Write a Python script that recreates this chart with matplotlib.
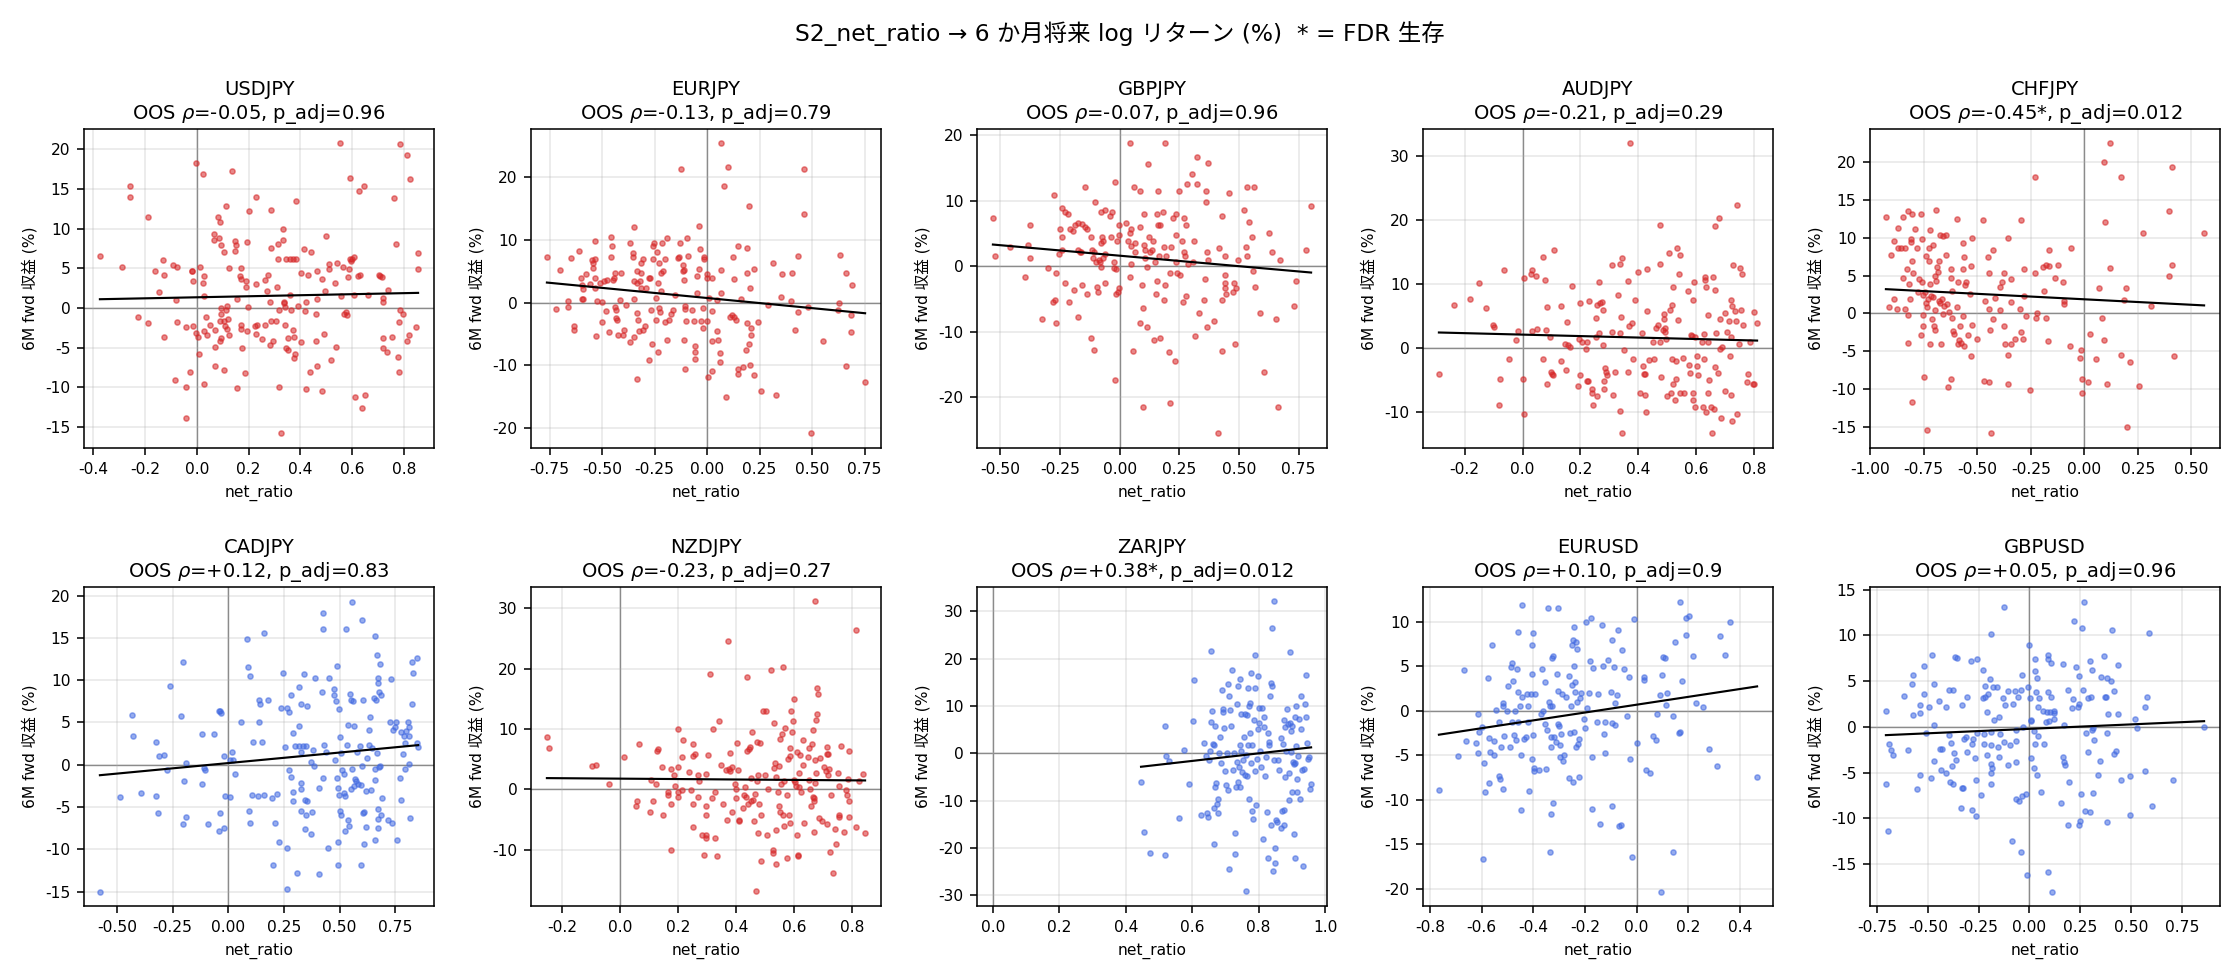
import numpy as np
import matplotlib
matplotlib.use("Agg")
import matplotlib.pyplot as plt

plt.rcParams['font.family'] = ['DejaVu Sans', 'Noto Sans CJK JP']
plt.rcParams['axes.unicode_minus'] = False

# ---------------- data ----------------
pair_names = ["USDJPY", "EURJPY", "GBPJPY", "AUDJPY", "CHFJPY",
              "CADJPY", "NZDJPY", "ZARJPY", "EURUSD", "GBPUSD"]
oos_rho = [-0.05, -0.13, -0.07, -0.21, -0.45, 0.12, -0.23, 0.38, 0.10, 0.05]
p_adj_text = ["0.96", "0.79", "0.96", "0.29", "0.012", "0.83", "0.27", "0.012", "0.9", "0.96"]
fdr_survive = [False, False, False, False, True, False, False, True, False, False]
# regression line (slope, intercept)
fit_slope = [0.651, -3.234, -3.2, -1.15, -1.448, 2.488, -0.352, 8.0, 4.41, 0.974]
fit_intercept = [1.344, 0.732, 1.6, 2.08, 1.87, 0.19, 1.78, -6.4, 0.70, -0.22]

usdjpy_pts = [(-0.374,6.5),(-0.29,5.2),(-0.257,15.3),(-0.257,14.0),(-0.226,-1.2),(-0.19,11.5),(-0.19,-1.9),(-0.16,4.7),(-0.145,2.0),(-0.13,6.0),(-0.125,4.2),(-0.125,-3.7),(-0.09,5.4),(-0.08,1.0),(-0.075,5.1),(-0.075,-1.8),(-0.083,-9.1),(-0.04,-2.4),(-0.04,-10.0),(-0.04,-13.9),(-0.028,-8.1),(-0.02,4.6),(-0.017,4.7),(-0.013,-2.3),(-0.013,3.4),(-0.005,18.2),(-0.005,-3.2),(0.003,-3.6),(0.01,-5.8),(0.014,5.1),(0.022,16.8),(0.022,3.1),(0.026,4.0),(0.026,1.5),(0.026,-9.6),(0.026,-2.9),(0.037,-1.2),(0.041,-3.4),(0.049,-2.2),(0.072,-4.9),(0.072,-2.8),(0.072,-7.3),(0.068,9.3),(0.065,8.5),(0.08,11.4),(0.084,8.8),(0.088,10.8),(0.095,7.9),(0.103,7.0),(0.088,-4.2),(0.092,-3.8),(0.088,-1.6),(0.092,-0.7),(0.095,-0.04),(0.103,-1.7),(0.103,-7.8),(0.107,-2.3),(0.111,12.8),(0.111,-0.3),(0.115,0.2),(0.115,-2.6),(0.119,-1.4),(0.123,5.0),(0.126,-3.4),(0.134,17.2),(0.146,8.4),(0.146,7.2),(0.15,7.9),(0.154,1.1),(0.154,-10.1),(0.165,4.0),(0.169,5.0),(0.169,3.6),(0.169,-2.1),(0.169,-2.7),(0.173,-5.0),(0.185,-8.2),(0.188,3.4),(0.188,2.6),(0.192,8.3),(0.192,-2.9),(0.196,0.1),(0.2,12.2),(0.223,-2.3),(0.227,14.0),(0.227,3.0),(0.231,-2.1),(0.227,-3.3),(0.25,-3.9),(0.262,3.5),(0.262,-2.1),(0.27,2.1),(0.274,4.2),(0.281,0.7),(0.281,-4.7),(0.285,12.3),(0.285,7.6),(0.285,-1.7),(0.293,-4.1),(0.305,-1.7),(0.308,2.7),(0.312,6.2),(0.312,8.1),(0.316,-0.2),(0.316,-10.0),(0.324,-15.8),(0.331,9.9),(0.331,8.5),(0.335,0.8),(0.335,0.6),(0.339,0.1),(0.339,-2.2),(0.343,6.2),(0.343,-5.1),(0.35,-3.8),(0.35,-5.3),(0.358,6.2),(0.358,1.6),(0.362,-0.2),(0.37,6.2),(0.37,-2.8),(0.374,-3.6),(0.374,-6.3),(0.378,-5.8),(0.382,13.5),(0.382,6.1),(0.39,0.3),(0.401,4.4),(0.401,-4.3),(0.413,7.4),(0.417,-0.4),(0.421,0.8),(0.421,-10.2),(0.428,4.1),(0.436,-8.1),(0.44,7.0),(0.459,-0.8),(0.459,-4.2),(0.463,4.7),(0.463,1.1),(0.463,-7.3),(0.483,3.6),(0.483,-10.5),(0.49,-3.3),(0.494,2.1),(0.498,9.1),(0.51,5.5),(0.51,4.9),(0.517,-6.5),(0.533,3.2),(0.537,-4.9),(0.541,5.6),(0.552,20.7),(0.556,1.5),(0.564,5.1),(0.568,-0.8),(0.575,-0.5),(0.579,-0.9),(0.583,3.9),(0.587,4.9),(0.59,16.3),(0.59,6.1),(0.595,5.9),(0.6,6.2),(0.606,6.4),(0.606,1.6),(0.61,-11.2),(0.622,4.0),(0.626,14.7),(0.63,4.1),(0.637,-12.6),(0.645,15.3),(0.649,-11.0),(0.66,1.6),(0.703,4.1),(0.707,4.0),(0.715,3.9),(0.719,1.2),(0.719,0.7),(0.719,-3.8),(0.719,-5.1),(0.734,-5.5),(0.738,2.2),(0.754,-3.7),(0.761,13.9),(0.769,8.0),(0.777,-6.2),(0.781,-1.8),(0.781,-8.0),(0.785,-0.2),(0.785,20.6),(0.796,-0.7),(0.812,19.3),(0.812,-4.1),(0.819,-3.4),(0.823,16.2),(0.846,-2.4),(0.854,6.9),(0.854,4.9)]

eurjpy_pts = [(-0.763,7.2),(-0.72,-1.0),(-0.70,5.2),(-0.662,0.2),(-0.662,-0.7),(-0.648,7.1),(-0.634,-3.8),(-0.634,-4.3),(-0.61,8.2),(-0.60,4.0),(-0.596,2.8),(-0.59,2.1),(-0.596,0.5),(-0.59,0.5),(-0.576,4.5),(-0.557,2.9),(-0.548,6.8),(-0.543,5.6),(-0.543,6.3),(-0.533,9.9),(-0.533,6.9),(-0.533,3.9),(-0.533,2.3),(-0.529,-5.4),(-0.524,0.2),(-0.51,3.1),(-0.50,0.05),(-0.50,-3.1),(-0.49,3.4),(-0.481,-1.4),(-0.476,3.6),(-0.466,-4.7),(-0.457,10.4),(-0.452,9.1),(-0.457,7.2),(-0.447,3.6),(-0.443,3.9),(-0.438,4.7),(-0.438,-0.7),(-0.433,-1.2),(-0.433,-2.5),(-0.428,-2.7),(-0.424,-5.2),(-0.414,0.4),(-0.41,4.7),(-0.40,-5.1),(-0.395,-4.4),(-0.385,-0.4),(-0.366,9.5),(-0.366,-6.3),(-0.352,7.9),(-0.352,7.2),(-0.347,12.0),(-0.347,3.4),(-0.347,0.5),(-0.347,-5.5),(-0.333,5.0),(-0.333,3.2),(-0.333,-1.7),(-0.333,-12.2),(-0.328,-2.7),(-0.323,-4.6),(-0.318,3.4),(-0.314,2.4),(-0.314,4.8),(-0.314,6.4),(-0.304,6.9),(-0.304,-4.4),(-0.295,-3.8),(-0.29,2.3),(-0.275,3.9),(-0.271,4.0),(-0.275,-9.2),(-0.266,-1.2),(-0.261,-6.6),(-0.256,9.1),(-0.256,6.9),(-0.252,9.5),(-0.242,0.7),(-0.242,-2.7),(-0.237,8.0),(-0.232,3.2),(-0.232,-7.9),(-0.228,6.3),(-0.228,-0.9),(-0.223,-1.5),(-0.218,1.8),(-0.218,4.7),(-0.213,9.5),(-0.208,5.0),(-0.199,-3.1),(-0.199,6.9),(-0.189,10.3),(-0.189,-6.0),(-0.18,-2.8),(-0.17,-1.9),(-0.161,-1.2),(-0.151,1.2),(-0.137,7.1),(-0.132,7.2),(-0.127,9.5),(-0.123,21.3),(-0.113,6.0),(-0.113,5.0),(-0.108,5.2),(-0.108,3.6),(-0.108,-5.9),(-0.104,-0.6),(-0.104,-1.1),(-0.104,-10.6),(-0.099,-3.0),(-0.094,10.3),(-0.089,7.4),(-0.07,-1.2),(-0.065,-3.0),(-0.06,-7.0),(-0.056,-7.9),(-0.06,-9.0),(-0.046,1.6),(-0.046,4.2),(-0.041,12.2),(-0.037,5.3),(-0.032,8.5),(-0.027,-3.0),(-0.022,-4.1),(-0.018,-0.9),(-0.013,7.2),(-0.013,6.9),(-0.003,-3.0),(-0.003,4.5),(-0.003,3.9),(0.002,-11.9),(0.011,0.7),(0.021,-1.4),(0.021,-6.2),(0.025,4.0),(0.025,-11.0),(0.045,0.4),(0.049,-4.6),(0.054,-6.0),(0.059,-8.1),(0.059,-9.5),(0.064,25.4),(0.064,5.2),(0.064,1.5),(0.078,18.6),(0.088,-15.1),(0.097,21.6),(0.111,-2.3),(0.116,-2.0),(0.121,7.2),(0.126,-2.3),(0.13,3.7),(0.135,-2.8),(0.145,9.0),(0.149,-10.6),(0.149,-11.4),(0.159,0.5),(0.173,-10.3),(0.183,-7.6),(0.188,4.8),(0.192,-3.3),(0.192,8.7),(0.197,15.5),(0.197,-6.6),(0.202,2.4),(0.202,-10.0),(0.207,-4.1),(0.207,-5.1),(0.221,5.3),(0.221,-11.6),(0.24,-3.1),(0.255,-14.1),(0.288,-0.4),(0.312,6.4),(0.326,-14.8),(0.35,0.9),(0.355,4.5),(0.398,0.2),(0.403,4.7),(0.417,-4.3),(0.432,7.4),(0.432,-1.5),(0.46,21.3),(0.46,14.1),(0.479,-0.7),(0.494,-20.9),(0.551,-6.2),(0.623,-1.2),(0.627,-0.1),(0.632,7.6),(0.661,4.8),(0.661,-10.2),(0.685,-2.0),(0.685,-4.7),(0.689,2.8),(0.752,-12.6)]

gbpjpy_pts = [(-0.531,7.3),(-0.522,1.5),(-0.46,3.0),(-0.397,-1.6),(-0.384,3.3),(-0.376,6.3),(-0.376,1.3),(-0.325,-8.0),(-0.30,-0.2),(-0.279,-5.5),(-0.275,10.8),(-0.27,-5.1),(-0.266,-1.0),(-0.266,-8.6),(-0.254,1.8),(-0.25,5.6),(-0.242,8.8),(-0.242,4.5),(-0.242,2.5),(-0.229,8.2),(-0.229,-2.5),(-0.216,7.9),(-0.212,-5.5),(-0.208,5.6),(-0.196,5.4),(-0.191,-3.6),(-0.187,6.3),(-0.175,6.6),(-0.175,2.4),(-0.175,-7.7),(-0.166,2.1),(-0.162,2.2),(-0.158,6.5),(-0.158,-2.9),(-0.145,12.0),(-0.145,5.9),(-0.137,5.7),(-0.137,-4.2),(-0.12,4.5),(-0.12,-11.0),(-0.116,2.4),(-0.112,1.2),(-0.108,2.2),(-0.108,-12.7),(-0.103,9.8),(-0.099,0.6),(-0.095,-3.2),(-0.091,-3.9),(-0.087,1.0),(-0.082,0.6),(-0.078,8.3),(-0.078,3.6),(-0.078,-0.05),(-0.074,4.4),(-0.07,3.9),(-0.07,1.2),(-0.061,8.5),(-0.061,1.9),(-0.061,-2.6),(-0.04,7.7),(-0.036,4.4),(-0.032,8.3),(-0.024,0.6),(-0.024,-0.2),(-0.02,12.9),(-0.02,-17.3),(-0.015,-0.4),(-0.015,-4.2),(-0.011,3.8),(-0.007,-4.0),(-0.003,4.8),(-0.003,6.3),(-0.003,-3.4),(0.027,6.6),(0.035,3.9),(0.043,18.7),(0.043,5.1),(0.043,-1.6),(0.047,5.7),(0.047,3.1),(0.047,0.4),(0.056,-13.0),(0.06,12.1),(0.064,3.5),(0.064,2.1),(0.085,11.5),(0.085,5.9),(0.085,-8.7),(0.094,-2.8),(0.098,-21.4),(0.098,-6.4),(0.102,7.9),(0.102,3.3),(0.106,2.5),(0.106,1.3),(0.115,-0.05),(0.115,-9.2),(0.119,15.5),(0.123,4.5),(0.127,2.2),(0.136,2.4),(0.14,3.8),(0.144,-11.2),(0.148,0.6),(0.152,-4.3),(0.156,7.9),(0.156,-2.2),(0.161,11.5),(0.161,6.3),(0.165,1.6),(0.169,6.3),(0.169,-10.9),(0.182,8.2),(0.186,3.0),(0.186,-5.1),(0.19,18.7),(0.19,-2.9),(0.194,1.6),(0.207,-13.1),(0.211,-1.0),(0.211,-20.9),(0.215,3.0),(0.223,7.4),(0.232,-14.5),(0.236,7.9),(0.236,4.7),(0.236,0.6),(0.24,-1.1),(0.249,11.5),(0.253,-1.3),(0.261,3.9),(0.265,-5.5),(0.27,7.3),(0.27,2.1),(0.274,1.6),(0.278,6.3),(0.278,-4.6),(0.282,12.6),(0.286,0.3),(0.303,14.0),(0.307,0.6),(0.311,3.9),(0.316,-10.7),(0.324,16.7),(0.324,12.6),(0.332,-7.1),(0.353,-5.1),(0.357,-2.0),(0.361,11.5),(0.361,9.8),(0.366,2.1),(0.366,-9.3),(0.37,15.8),(0.37,0.9),(0.395,-8.3),(0.416,2.7),(0.429,7.6),(0.429,-5.1),(0.429,-13.0),(0.441,-1.3),(0.441,1.6),(0.441,-2.6),(0.441,-3.4),(0.446,-4.2),(0.458,11.1),(0.475,-3.9),(0.479,-2.6),(0.483,-11.9),(0.487,-3.4),(0.496,0.9),(0.412,-25.5),(0.521,8.5),(0.529,3.0),(0.534,12.0),(0.534,1.5),(0.542,6.8),(0.554,4.4),(0.559,-0.8),(0.563,12.0),(0.567,-3.2),(0.588,-7.2),(0.605,-16.2),(0.626,5.1),(0.638,2.2),(0.655,-8.0),(0.663,-21.5),(0.672,0.9),(0.73,-6.0),(0.739,-2.2),(0.781,2.4),(0.802,9.1)]

audjpy_pts = [(-0.289,-4.1),(-0.237,6.7),(-0.182,7.7),(-0.151,10.2),(-0.127,6.2),(-0.103,3.6),(-0.099,3.3),(-0.078,-4.9),(-0.082,-9.0),(-0.065,12.2),(-0.047,-1.8),(-0.023,1.2),(-0.016,2.6),(0.001,-4.9),(0.005,-10.3),(0.005,11.0),(0.029,11.6),(0.032,12.2),(0.032,2.6),(0.046,11.3),(0.05,2.9),(0.07,14.3),(0.07,-1.8),(0.077,10.6),(0.081,2.8),(0.084,6.4),(0.084,-5.7),(0.095,1.7),(0.098,-3.7),(0.102,-4.1),(0.105,-4.3),(0.108,15.4),(0.133,6.6),(0.133,-2.1),(0.146,0.6),(0.15,-3.5),(0.153,4.0),(0.157,0.4),(0.164,0.1),(0.171,9.7),(0.191,-6.0),(0.195,1.4),(0.198,7.0),(0.198,-4.3),(0.205,1.0),(0.219,-0.2),(0.222,0.9),(0.222,-5.2),(0.226,-5.2),(0.229,7.3),(0.24,-6.5),(0.24,-7.0),(0.243,-8.9),(0.254,4.7),(0.254,1.7),(0.257,6.7),(0.257,-7.6),(0.264,10.3),(0.264,2.3),(0.267,7.0),(0.274,7.2),(0.278,5.9),(0.278,0.4),(0.281,-5.2),(0.281,-6.5),(0.285,-3.2),(0.288,-3.7),(0.291,-4.3),(0.309,2.5),(0.309,13.0),(0.312,-7.4),(0.319,-3.7),(0.33,8.3),(0.337,13.2),(0.337,2.3),(0.337,-9.8),(0.34,4.8),(0.344,14.1),(0.344,-13.4),(0.351,-0.4),(0.364,-3.8),(0.364,10.5),(0.368,3.4),(0.378,3.9),(0.382,-1.8),(0.389,7.5),(0.40,11.9),(0.406,-7.1),(0.413,2.3),(0.416,-2.9),(0.42,-4.1),(0.423,-4.1),(0.423,-7.4),(0.427,-10.1),(0.43,5.8),(0.43,12.4),(0.437,-1.9),(0.451,0.9),(0.455,-1.8),(0.461,3.1),(0.468,3.6),(0.475,19.3),(0.475,13.2),(0.475,1.0),(0.478,-4.6),(0.485,2.8),(0.489,4.5),(0.489,5.3),(0.492,3.1),(0.492,2.5),(0.496,1.4),(0.499,-7.6),(0.506,14.9),(0.51,5.9),(0.513,-7.1),(0.516,6.7),(0.516,-1.8),(0.52,9.5),(0.52,-5.7),(0.527,-8.1),(0.53,-2.1),(0.53,-4.9),(0.534,15.7),(0.537,4.4),(0.541,11.6),(0.544,14.6),(0.544,-7.1),(0.554,-1.6),(0.558,-7.1),(0.572,8.9),(0.575,-2.6),(0.579,-4.0),(0.582,2.0),(0.585,1.8),(0.589,7.5),(0.589,-7.0),(0.589,-8.2),(0.592,10.3),(0.596,1.7),(0.596,-9.2),(0.603,-1.3),(0.603,-2.9),(0.606,-4.3),(0.62,0.9),(0.624,-9.3),(0.627,2.2),(0.627,-1.8),(0.63,11.1),(0.63,10.6),(0.634,9.5),(0.634,-10.1),(0.641,0.9),(0.641,-7.1),(0.641,5.1),(0.644,-5.1),(0.651,-9.2),(0.655,-13.4),(0.658,11.1),(0.662,-9.5),(0.665,9.1),(0.665,19.1),(0.665,-3.0),(0.668,2.3),(0.675,-4.0),(0.679,20.4),(0.682,4.5),(0.682,-0.2),(0.685,-10.9),(0.689,0.1),(0.699,5.5),(0.699,-6.8),(0.706,2.5),(0.713,4.2),(0.716,-1.2),(0.72,7.5),(0.72,1.7),(0.72,-7.3),(0.723,6.6),(0.723,-11.5),(0.727,13.0),(0.734,5.8),(0.737,4.2),(0.741,22.3),(0.741,-10.4),(0.748,0.6),(0.751,12.5),(0.755,5.9),(0.758,11.6),(0.762,3.6),(0.776,-5.4),(0.779,-4.1),(0.786,1.0),(0.797,-5.6),(0.80,5.6),(0.80,-5.7),(0.81,3.9),(0.37,32.0)]

chfjpy_pts = [(-0.927,12.8),(-0.913,0.9),(-0.903,7.8),(-0.889,9.6),(-0.889,1.9),(-0.875,0.6),(-0.87,11.3),(-0.87,8.7),(-0.856,8.6),(-0.847,12.8),(-0.847,4.7),(-0.838,8.7),(-0.838,0.6),(-0.828,5.9),(-0.823,13.5),(-0.823,-0.2),(-0.823,-3.9),(-0.819,3.9),(-0.814,1.9),(-0.809,9.9),(-0.809,9.5),(-0.805,13.2),(-0.805,7.0),(-0.805,-11.7),(-0.8,5.4),(-0.791,11.2),(-0.781,8.7),(-0.777,2.9),(-0.772,4.5),(-0.763,13.2),(-0.763,-2.8),(-0.758,9.8),(-0.758,4.1),(-0.753,2.5),(-0.753,-0.2),(-0.753,-1.6),(-0.748,-8.4),(-0.744,2.9),(-0.739,7.6),(-0.739,1.4),(-0.734,0.8),(-0.734,-15.4),(-0.73,1.9),(-0.725,7.0),(-0.725,8.6),(-0.72,11.1),(-0.72,3.9),(-0.72,-4.0),(-0.716,2.3),(-0.711,-0.8),(-0.706,9.1),(-0.706,2.2),(-0.702,-1.6),(-0.697,-2.2),(-0.697,5.0),(-0.697,0.4),(-0.692,13.7),(-0.692,4.3),(-0.688,6.2),(-0.683,5.5),(-0.678,1.7),(-0.678,7.0),(-0.673,10.4),(-0.673,1.4),(-0.669,-4.0),(-0.664,1.9),(-0.659,10.2),(-0.659,-0.04),(-0.655,1.0),(-0.645,7.8),(-0.645,10.4),(-0.641,1.3),(-0.636,-9.7),(-0.631,0.2),(-0.622,5.9),(-0.622,4.7),(-0.622,-8.7),(-0.617,3.0),(-0.617,-0.6),(-0.613,-2.3),(-0.608,-2.7),(-0.594,12.5),(-0.594,0.8),(-0.589,4.1),(-0.589,-4.0),(-0.584,-3.5),(-0.58,-1.6),(-0.575,-3.9),(-0.566,9.3),(-0.566,5.9),(-0.566,-0.3),(-0.561,7.5),(-0.561,-4.3),(-0.556,3.7),(-0.552,4.2),(-0.542,-2.8),(-0.533,2.6),(-0.528,6.3),(-0.528,-5.7),(-0.523,10.0),(-0.523,-1.5),(-0.50,-3.4),(-0.472,12.4),(-0.463,1.7),(-0.45,7.5),(-0.445,5.4),(-0.445,0.6),(-0.44,-2.2),(-0.445,-9.1),(-0.467,-8.9),(-0.434,-15.9),(-0.425,8.4),(-0.425,-0.8),(-0.416,2.1),(-0.392,0.4),(-0.392,3.5),(-0.383,4.2),(-0.375,-1.6),(-0.375,5.4),(-0.369,-4.0),(-0.355,10.0),(-0.355,-5.5),(-0.355,-9.3),(-0.345,-4.0),(-0.345,1.5),(-0.341,4.6),(-0.322,-3.4),(-0.303,0.6),(-0.298,12.4),(-0.298,-2.4),(-0.289,-3.4),(-0.284,5.9),(-0.28,2.3),(-0.275,-0.3),(-0.252,-10.1),(-0.233,18.0),(-0.233,5.4),(-0.228,-0.6),(-0.223,0.1),(-0.195,6.2),(-0.19,3.0),(-0.181,-0.6),(-0.177,6.4),(-0.172,-3.6),(-0.167,6.3),(-0.163,8.4),(-0.139,4.7),(-0.125,6.4),(-0.102,4.1),(-0.097,1.7),(-0.097,1.3),(-0.069,-4.3),(-0.064,8.6),(-0.022,-5.9),(-0.017,-4.8),(-0.013,-8.7),(-0.013,-10.6),(0.016,-9.1),(0.025,-2.7),(0.053,-6.1),(0.067,3.3),(0.081,-0.6),(0.091,20.0),(0.091,-3.5),(0.095,12.1),(0.105,-9.3),(0.119,22.5),(0.119,6.0),(0.17,18.0),(0.17,-5.5),(0.184,1.8),(0.194,3.4),(0.198,-15.0),(0.213,-6.4),(0.255,-9.6),(0.273,10.7),(0.311,1.0),(0.395,13.6),(0.395,4.9),(0.409,19.4),(0.409,6.4),(0.419,-5.7),(0.559,10.6)]

cadjpy_pts = [(-0.577,-15.0),(-0.487,-3.8),(-0.433,5.9),(-0.429,3.4),(-0.392,-3.3),(-0.325,2.7),(-0.325,-3.7),(-0.316,-5.7),(-0.311,1.0),(-0.289,1.1),(-0.275,-0.6),(-0.262,9.3),(-0.212,5.7),(-0.203,12.2),(-0.198,-1.9),(-0.203,-7.0),(-0.189,-6.2),(-0.189,0.2),(-0.117,3.6),(-0.117,-2.3),(-0.108,-0.4),(-0.104,-0.6),(-0.09,-7.0),(-0.063,3.6),(-0.041,6.4),(-0.036,6.3),(-0.032,6.1),(-0.036,-5.7),(-0.041,-7.8),(-0.018,-7.5),(-0.018,1.0),(-0.014,-3.7),(0.009,-3.8),(0.009,0.6),(0.018,1.5),(0.023,0.6),(0.032,-1.1),(0.059,5.0),(0.086,14.9),(0.09,11.6),(0.095,-5.5),(0.099,10.5),(0.099,-6.9),(0.108,-3.6),(0.113,2.7),(0.135,-3.7),(0.14,7.7),(0.14,5.0),(0.144,7.2),(0.153,2.7),(0.162,-3.6),(0.162,15.6),(0.18,7.7),(0.198,-4.0),(0.203,-11.9),(0.212,-6.9),(0.221,-3.5),(0.226,-9.1),(0.235,6.7),(0.244,10.8),(0.257,2.1),(0.262,6.7),(0.262,-14.7),(0.266,-9.9),(0.271,6.2),(0.275,-0.6),(0.284,8.3),(0.284,-1.5),(0.289,3.7),(0.293,-3.2),(0.293,-4.3),(0.302,2.2),(0.311,-12.8),(0.316,4.6),(0.316,9.2),(0.32,2.2),(0.325,7.2),(0.325,1.5),(0.329,-2.2),(0.329,-2.9),(0.329,-5.5),(0.334,2.2),(0.338,10.7),(0.343,-4.2),(0.343,-7.6),(0.347,2.2),(0.352,6.9),(0.352,-4.3),(0.347,-5.9),(0.37,-8.2),(0.37,0.3),(0.374,-5.6),(0.379,1.7),(0.383,-0.2),(0.388,10.2),(0.406,-2.8),(0.406,-12.9),(0.42,8.6),(0.424,16.0),(0.424,17.9),(0.428,2.3),(0.424,-1.6),(0.438,1.5),(0.447,-9.9),(0.451,10.3),(0.474,9.0),(0.474,8.2),(0.478,0.6),(0.483,7.5),(0.487,11.7),(0.487,-1.6),(0.492,-9.2),(0.492,-11.9),(0.492,-2.8),(0.496,6.6),(0.496,-3.6),(0.501,3.3),(0.501,-5.5),(0.505,-5.9),(0.505,1.4),(0.51,-0.6),(0.519,-1.1),(0.519,-3.3),(0.523,-3.7),(0.523,-7.8),(0.528,16.0),(0.532,2.3),(0.536,4.7),(0.536,-6.6),(0.541,-7.2),(0.545,8.4),(0.55,7.6),(0.55,-2.9),(0.555,19.3),(0.555,-0.5),(0.559,7.5),(0.564,4.6),(0.564,-2.5),(0.568,-1.7),(0.573,-1.9),(0.577,1.5),(0.582,-2.3),(0.591,2.2),(0.596,-2.4),(0.596,-11.9),(0.6,-0.2),(0.6,17.1),(0.605,7.6),(0.605,-5.7),(0.609,-9.4),(0.609,-5.6),(0.618,-3.1),(0.618,-7.4),(0.623,0.8),(0.632,4.1),(0.632,2.3),(0.636,5.6),(0.641,-3.0),(0.645,2.0),(0.654,7.9),(0.659,15.2),(0.659,-0.5),(0.659,-1.8),(0.659,-8.9),(0.663,7.7),(0.668,13.0),(0.668,1.4),(0.672,10.2),(0.672,9.7),(0.672,-5.2),(0.672,-6.4),(0.672,-7.5),(0.677,8.6),(0.677,-0.3),(0.681,11.9),(0.681,-0.2),(0.686,8.3),(0.686,-5.9),(0.69,-4.0),(0.717,-6.6),(0.726,5.0),(0.731,10.1),(0.735,-6.9),(0.74,4.1),(0.749,4.4),(0.753,5.1),(0.758,-8.9),(0.771,-1.6),(0.776,3.9),(0.776,-4.2),(0.785,1.3),(0.789,3.4),(0.794,2.6),(0.794,-0.5),(0.798,4.0),(0.807,5.1),(0.812,3.4),(0.812,0.1),(0.812,4.4),(0.817,-6.3),(0.826,7.2),(0.826,12.1),(0.83,10.9),(0.848,12.6),(0.848,2.6),(0.853,2.1)]

nzdjpy_pts = [(-0.253,8.7),(-0.246,6.9),(-0.097,3.9),(-0.083,4.1),(-0.038,0.9),(0.014,5.4),(0.055,-2.7),(0.059,-1.9),(0.066,7.5),(0.104,-3.8),(0.108,1.6),(0.114,-1.9),(0.125,0.9),(0.128,6.4),(0.132,6.7),(0.146,3.7),(0.149,-4.3),(0.166,-0.4),(0.166,-0.9),(0.177,3.4),(0.177,-2.5),(0.177,-10.1),(0.187,2.4),(0.191,0.6),(0.201,10.0),(0.201,3.7),(0.201,-0.4),(0.201,-1.2),(0.212,5.4),(0.215,-0.05),(0.218,8.2),(0.239,2.9),(0.246,-0.05),(0.25,5.5),(0.25,-2.5),(0.25,-6.2),(0.253,7.5),(0.26,5.9),(0.27,2.4),(0.27,-1.2),(0.274,1.4),(0.284,-7.6),(0.291,-10.9),(0.295,-4.2),(0.298,2.6),(0.298,-2.7),(0.298,-7.5),(0.298,-8.1),(0.305,5.7),(0.312,19.1),(0.316,-1.5),(0.319,10.0),(0.329,-0.4),(0.329,-8.0),(0.336,-11.1),(0.34,11.3),(0.347,4.1),(0.354,-2.4),(0.364,3.2),(0.368,-5.0),(0.371,24.5),(0.375,3.4),(0.378,3.1),(0.381,6.0),(0.385,-3.7),(0.388,3.7),(0.395,0.9),(0.399,0.1),(0.399,-1.5),(0.402,7.7),(0.406,3.2),(0.409,-5.0),(0.409,-5.3),(0.423,-3.0),(0.427,-0.9),(0.43,0.4),(0.434,-1.2),(0.437,18.6),(0.437,6.4),(0.44,-2.4),(0.444,6.7),(0.447,7.0),(0.451,1.9),(0.451,-2.0),(0.454,9.5),(0.458,-1.7),(0.461,-5.3),(0.465,-0.7),(0.468,-16.9),(0.472,7.9),(0.472,1.4),(0.475,2.4),(0.475,-7.3),(0.479,-2.4),(0.482,7.7),(0.486,-4.3),(0.486,-11.9),(0.492,13.0),(0.499,2.3),(0.503,13.0),(0.506,-7.6),(0.51,0.1),(0.52,19.7),(0.527,-10.1),(0.527,-10.6),(0.53,11.0),(0.53,3.6),(0.534,4.4),(0.538,2.1),(0.538,-6.8),(0.538,-12.4),(0.544,-0.4),(0.548,3.9),(0.548,-2.7),(0.552,8.4),(0.552,-3.8),(0.555,0.9),(0.558,9.2),(0.562,20.2),(0.562,-4.2),(0.565,1.4),(0.565,-6.0),(0.569,10.2),(0.576,-1.0),(0.576,-11.4),(0.579,5.1),(0.583,-4.3),(0.586,6.9),(0.586,5.5),(0.586,-5.5),(0.589,13.0),(0.593,9.5),(0.597,11.3),(0.6,14.9),(0.6,1.6),(0.603,1.3),(0.607,0.6),(0.61,6.2),(0.61,-7.6),(0.614,-10.8),(0.614,-11.1),(0.617,2.7),(0.617,0.4),(0.621,5.7),(0.624,-0.5),(0.631,8.2),(0.631,4.1),(0.635,-5.5),(0.649,5.4),(0.652,6.9),(0.652,1.6),(0.656,0.1),(0.659,-2.7),(0.662,7.5),(0.666,9.8),(0.666,-1.2),(0.669,-1.5),(0.669,-1.9),(0.669,-7.1),(0.673,31.1),(0.673,4.9),(0.673,1.1),(0.676,11.5),(0.676,2.7),(0.68,16.8),(0.68,12.5),(0.683,15.8),(0.687,-4.7),(0.69,5.2),(0.697,-5.3),(0.704,3.7),(0.711,3.1),(0.714,7.0),(0.714,5.9),(0.714,-5.7),(0.718,5.9),(0.718,2.4),(0.721,3.4),(0.725,-10.4),(0.728,-0.9),(0.735,-13.9),(0.742,-6.5),(0.746,-9.1),(0.753,2.7),(0.756,0.6),(0.756,-4.2),(0.756,-4.5),(0.763,7.2),(0.773,-7.1),(0.78,-0.05),(0.784,-0.9),(0.787,1.8),(0.791,6.4),(0.791,-1.9),(0.791,-4.5),(0.815,26.3),(0.815,-6.3),(0.825,1.4),(0.839,2.6),(0.846,-7.3)]

zarjpy_pts = [(0.446,-6.0),(0.455,-16.6),(0.473,-21.0),(0.518,5.8),(0.521,-0.6),(0.53,-1.6),(0.518,-21.4),(0.56,-13.6),(0.575,0.7),(0.59,-6.5),(0.602,6.8),(0.605,15.5),(0.626,-13.0),(0.636,2.2),(0.642,-0.6),(0.645,-12.6),(0.648,-13.4),(0.651,-1.4),(0.654,0.5),(0.657,21.6),(0.657,6.6),(0.66,8.9),(0.663,2.0),(0.666,1.8),(0.666,-11.5),(0.666,-19.1),(0.669,5.8),(0.669,-7.1),(0.672,-6.3),(0.675,-10.7),(0.678,-12.6),(0.678,-9.6),(0.681,0.07),(0.684,3.4),(0.687,-2.0),(0.69,13.4),(0.693,8.7),(0.693,9.4),(0.696,5.3),(0.699,-3.7),(0.702,-6.7),(0.705,0.07),(0.708,14.6),(0.708,-7.7),(0.711,12.1),(0.711,-24.4),(0.714,9.1),(0.717,5.8),(0.72,17.6),(0.723,-3.5),(0.726,0.07),(0.729,-16.8),(0.729,-21.2),(0.732,-7.1),(0.735,10.4),(0.735,-1.8),(0.738,14.2),(0.738,-6.0),(0.741,-2.9),(0.744,15.7),(0.744,1.8),(0.744,-7.1),(0.747,0.5),(0.747,8.3),(0.75,-3.9),(0.753,-1.4),(0.756,3.4),(0.759,8.3),(0.759,-4.6),(0.762,-0.4),(0.762,-29.2),(0.765,8.1),(0.765,-4.8),(0.768,1.8),(0.768,13.8),(0.771,10.0),(0.771,-9.6),(0.774,4.3),(0.774,10.6),(0.777,16.9),(0.777,-2.0),(0.78,1.8),(0.78,-12.2),(0.783,-13.9),(0.786,7.0),(0.789,13.8),(0.789,20.7),(0.789,-3.7),(0.792,-10.9),(0.795,-1.2),(0.798,16.3),(0.798,5.1),(0.801,9.6),(0.801,6.4),(0.804,0.5),(0.807,-2.9),(0.81,9.6),(0.813,-18.1),(0.816,5.6),(0.816,7.7),(0.819,-4.8),(0.822,-0.8),(0.825,-12.4),(0.828,4.3),(0.828,-22.2),(0.831,2.4),(0.831,1.8),(0.834,12.1),(0.837,-15.1),(0.837,14.8),(0.84,14.2),(0.84,26.4),(0.843,-24.8),(0.846,32.1),(0.846,-1.4),(0.849,-20.0),(0.849,-23.1),(0.852,-14.1),(0.855,-14.5),(0.858,-1.4),(0.861,-3.5),(0.868,-15.8),(0.868,3.2),(0.871,-12.2),(0.873,2.0),(0.876,-15.1),(0.876,-12.0),(0.876,7.0),(0.879,-5.0),(0.879,5.6),(0.882,0.5),(0.885,9.4),(0.888,6.2),(0.891,-4.1),(0.891,-9.8),(0.894,21.4),(0.894,6.4),(0.897,4.7),(0.897,0.3),(0.9,-8.2),(0.9,5.8),(0.903,-1.8),(0.906,-17.0),(0.906,-2.3),(0.909,7.7),(0.909,-2.0),(0.909,-22.2),(0.912,10.0),(0.912,1.5),(0.915,-8.2),(0.915,-5.4),(0.918,-0.6),(0.921,7.2),(0.924,-9.6),(0.927,12.1),(0.927,5.1),(0.93,-3.5),(0.933,-23.8),(0.937,-3.3),(0.94,10.4),(0.943,16.5),(0.943,7.7),(0.946,2.2),(0.949,-1.2),(0.952,-0.8),(0.955,-7.5),(0.958,-6.5)]

eurusd_pts = [(-0.765,-8.9),(-0.692,-5.1),(-0.668,4.6),(-0.661,-3.4),(-0.622,-3.6),(-0.614,-0.3),(-0.614,-4.7),(-0.61,-2.4),(-0.599,-1.8),(-0.595,-16.7),(-0.591,-5.9),(-0.587,-9.1),(-0.575,3.7),(-0.572,-3.1),(-0.572,-8.1),(-0.568,-4.6),(-0.56,7.4),(-0.552,-3.4),(-0.552,-5.0),(-0.545,0.07),(-0.533,-1.2),(-0.533,-7.3),(-0.529,-7.6),(-0.525,-4.0),(-0.517,0.9),(-0.517,0.6),(-0.517,-8.8),(-0.514,-2.8),(-0.502,-0.04),(-0.498,2.8),(-0.49,-4.0),(-0.486,4.9),(-0.483,5.4),(-0.483,-1.2),(-0.479,3.4),(-0.475,-2.7),(-0.471,-0.04),(-0.467,-3.3),(-0.463,4.7),(-0.459,2.1),(-0.459,8.9),(-0.459,-1.3),(-0.452,0.5),(-0.448,-4.9),(-0.448,-11.1),(-0.444,11.9),(-0.444,1.6),(-0.436,-3.2),(-0.428,-2.9),(-0.424,1.9),(-0.421,0.6),(-0.421,-1.3),(-0.417,-9.0),(-0.409,1.9),(-0.405,7.4),(-0.405,4.2),(-0.405,-5.4),(-0.401,8.8),(-0.401,-2.7),(-0.397,-6.4),(-0.397,-6.8),(-0.394,1.9),(-0.378,-6.6),(-0.37,-0.3),(-0.366,4.7),(-0.363,-0.04),(-0.355,3.2),(-0.355,-1.5),(-0.351,-6.5),(-0.347,-2.2),(-0.343,11.6),(-0.339,1.0),(-0.335,0.6),(-0.335,-15.9),(-0.332,-4.0),(-0.332,-2.9),(-0.332,-11.6),(-0.328,0.5),(-0.328,5.9),(-0.324,6.2),(-0.324,-10.3),(-0.32,-2.9),(-0.312,-3.5),(-0.308,4.1),(-0.304,11.6),(-0.304,2.2),(-0.304,-1.5),(-0.301,-1.7),(-0.297,-3.8),(-0.297,-5.2),(-0.293,-2.6),(-0.289,1.9),(-0.285,-5.6),(-0.281,-5.0),(-0.274,1.6),(-0.262,3.9),(-0.262,-7.5),(-0.258,-2.5),(-0.254,0.6),(-0.25,2.9),(-0.25,7.4),(-0.246,8.0),(-0.246,-8.0),(-0.243,9.4),(-0.243,5.1),(-0.243,-2.4),(-0.239,3.3),(-0.239,2.1),(-0.235,7.7),(-0.235,-4.0),(-0.231,7.0),(-0.231,1.0),(-0.227,-3.7),(-0.223,-3.2),(-0.223,-7.4),(-0.219,1.4),(-0.215,2.0),(-0.204,-0.9),(-0.2,-1.9),(-0.196,10.0),(-0.192,0.3),(-0.185,2.0),(-0.181,5.6),(-0.177,10.4),(-0.173,-5.2),(-0.173,-11.0),(-0.169,4.8),(-0.154,-1.2),(-0.15,1.9),(-0.142,-12.7),(-0.134,9.7),(-0.13,5.1),(-0.126,-2.6),(-0.123,-1.2),(-0.123,-4.7),(-0.111,5.7),(-0.099,2.1),(-0.095,8.0),(-0.095,-10.7),(-0.095,-1.4),(-0.088,4.9),(-0.084,0.9),(-0.084,-1.6),(-0.076,1.8),(-0.072,9.1),(-0.068,-12.9),(-0.061,-12.8),(-0.057,6.9),(-0.049,4.7),(-0.037,-0.6),(-0.03,3.8),(-0.026,-5.4),(-0.018,-16.4),(-0.01,10.3),(0.001,-3.6),(0.028,3.8),(0.028,3.5),(0.036,-6.6),(0.052,-7.0),(0.063,-2.8),(0.075,-3.3),(0.079,-0.4),(0.09,1.8),(0.094,-20.3),(0.098,4.0),(0.102,6.1),(0.11,6.0),(0.114,0.7),(0.117,2.0),(0.141,-0.6),(0.141,-15.9),(0.148,7.8),(0.164,-2.5),(0.168,-2.4),(0.168,12.3),(0.175,3.4),(0.191,10.5),(0.191,8.5),(0.203,10.7),(0.218,6.2),(0.23,0.9),(0.257,0.4),(0.28,-4.3),(0.311,-6.2),(0.323,8.4),(0.342,6.3),(0.361,10.0),(0.466,-7.4)]

gbpusd_pts = [(-0.706,1.7),(-0.706,-6.2),(-0.696,-11.4),(-0.691,-1.9),(-0.681,-2.5),(-0.671,-3.1),(-0.617,3.4),(-0.597,-2.5),(-0.577,4.7),(-0.572,5.7),(-0.572,1.3),(-0.553,-6.8),(-0.538,2.4),(-0.538,1.5),(-0.538,-5.3),(-0.518,6.6),(-0.518,3.6),(-0.508,-0.7),(-0.493,2.2),(-0.484,-5.6),(-0.479,7.8),(-0.469,4.7),(-0.469,0.2),(-0.469,-3.7),(-0.444,2.8),(-0.439,-2.4),(-0.434,-4.7),(-0.429,-2.4),(-0.41,2.2),(-0.41,-5.0),(-0.395,4.0),(-0.395,-0.9),(-0.39,-6.0),(-0.385,-1.8),(-0.38,-4.3),(-0.375,-6.3),(-0.375,4.0),(-0.37,-2.9),(-0.365,7.6),(-0.36,-3.6),(-0.355,7.5),(-0.336,-8.9),(-0.331,2.4),(-0.331,-6.7),(-0.326,-6.7),(-0.321,-1.3),(-0.311,-1.1),(-0.306,3.3),(-0.306,-2.8),(-0.286,7.2),(-0.281,-1.9),(-0.281,-9.1),(-0.276,-1.3),(-0.266,-3.4),(-0.262,-5.8),(-0.262,-9.7),(-0.257,7.4),(-0.257,-0.7),(-0.237,-7.5),(-0.227,6.2),(-0.227,3.2),(-0.222,-1.9),(-0.222,-0.8),(-0.217,4.5),(-0.217,3.3),(-0.207,1.6),(-0.207,-3.1),(-0.202,3.6),(-0.192,5.2),(-0.188,10.1),(-0.188,-0.6),(-0.188,-2.0),(-0.188,-4.1),(-0.188,-5.1),(-0.188,-6.3),(-0.183,-4.5),(-0.178,4.4),(-0.173,0.8),(-0.158,4.4),(-0.153,-2.2),(-0.148,1.1),(-0.148,-3.3),(-0.143,-0.8),(-0.128,3.1),(-0.123,13.1),(-0.123,-1.7),(-0.118,2.4),(-0.104,-4.2),(-0.104,3.9),(-0.094,-2.0),(-0.084,-12.5),(-0.079,2.5),(-0.069,3.9),(-0.064,-0.3),(-0.064,-1.6),(-0.064,-3.8),(-0.064,-7.9),(-0.054,3.3),(-0.049,-8.1),(-0.044,4.0),(-0.044,-13.7),(-0.039,5.7),(-0.035,-7.6),(-0.03,-0.04),(-0.015,-7.3),(-0.01,-16.2),(-0.005,4.3),(0.0,8.9),(0.005,3.2),(0.01,0.6),(0.01,0.8),(0.01,-3.4),(0.02,-0.5),(0.02,-4.5),(0.025,7.4),(0.025,6.1),(0.025,-1.9),(0.03,3.8),(0.035,-5.3),(0.039,5.3),(0.044,2.2),(0.044,-1.0),(0.049,3.1),(0.059,-7.1),(0.069,1.7),(0.074,-1.9),(0.079,0.5),(0.084,1.6),(0.089,3.8),(0.089,7.4),(0.089,7.9),(0.089,-15.9),(0.094,0.6),(0.099,1.6),(0.104,3.3),(0.104,7.0),(0.113,-18.0),(0.123,1.7),(0.123,0.9),(0.123,1.5),(0.153,-8.3),(0.163,6.9),(0.163,-3.3),(0.168,0.2),(0.168,-3.8),(0.173,-4.2),(0.192,4.0),(0.192,-10.7),(0.197,-6.0),(0.207,2.1),(0.212,3.0),(0.217,11.6),(0.227,6.5),(0.237,2.2),(0.242,2.5),(0.242,5.6),(0.242,-10.7),(0.247,-10.3),(0.252,-7.3),(0.257,10.8),(0.262,4.0),(0.266,13.7),(0.271,-9.2),(0.276,-0.7),(0.286,-2.8),(0.286,3.2),(0.296,7.2),(0.296,-9.3),(0.301,3.3),(0.306,6.2),(0.306,-0.3),(0.311,-0.1),(0.311,-7.2),(0.316,-1.4),(0.336,-5.3),(0.345,-3.7),(0.35,5.5),(0.365,7.7),(0.37,3.3),(0.375,3.3),(0.38,5.3),(0.38,-0.7),(0.38,-10.4),(0.385,1.4),(0.4,5.0),(0.405,10.6),(0.414,3.9),(0.414,-3.0),(0.424,-2.6),(0.434,6.8),(0.434,1.4),(0.449,-5.8),(0.493,-5.4),(0.493,-9.6),(0.518,0.9),(0.528,-0.1),(0.567,2.2),(0.567,-4.8),(0.577,3.3),(0.587,10.3),(0.602,-8.7),(0.706,-5.8),(0.859,0.0)]

panel_points = [usdjpy_pts, eurjpy_pts, gbpjpy_pts, audjpy_pts, chfjpy_pts,
                cadjpy_pts, nzdjpy_pts, zarjpy_pts, eurusd_pts, gbpusd_pts]

# ---------------- layout ----------------
W, H = 2240, 980
fig = plt.figure(figsize=(16, 7), dpi=140)
lefts_px = [84, 531, 977, 1423, 1870]
tops_px = [129, 587]
ax_w_px, ax_h_px = 350, 319

RED = "#d62728"
BLUE = "#4169e1"

for i, name in enumerate(pair_names):
    r, c = divmod(i, 5)
    left = lefts_px[c] / W
    bottom = 1 - (tops_px[r] + ax_h_px) / H
    ax = fig.add_axes([left, bottom, ax_w_px / W, ax_h_px / H])
    pts = np.array(panel_points[i])
    x, y = pts[:, 0], pts[:, 1]
    col = RED if oos_rho[i] < 0 else BLUE
    ax.axhline(0, color="gray", lw=0.7, zorder=1)
    ax.axvline(0, color="gray", lw=0.7, zorder=1)
    ax.scatter(x, y, s=7, color=col, alpha=0.55, linewidths=0.8, zorder=2)
    xx = np.array([x.min(), x.max()])
    ax.plot(xx, fit_slope[i] * xx + fit_intercept[i], color="black", lw=1.1, zorder=3)
    ax.grid(True, alpha=0.3)
    star = "*" if fdr_survive[i] else ""
    ax.set_title(f"{name}\nOOS $\\rho$={oos_rho[i]:+.2f}{star}, p_adj={p_adj_text[i]}",
                 fontsize=10, pad=5)
    ax.set_xlabel("net_ratio", fontsize=8)
    ax.set_ylabel("6M fwd 収益 (%)", fontsize=8)
    ax.tick_params(labelsize=8)

fig.suptitle("S2_net_ratio → 6 か月将来 log リターン (%)  * = FDR 生存",
             fontsize=12, y=0.978)
fig.savefig("out.png", dpi=140)
